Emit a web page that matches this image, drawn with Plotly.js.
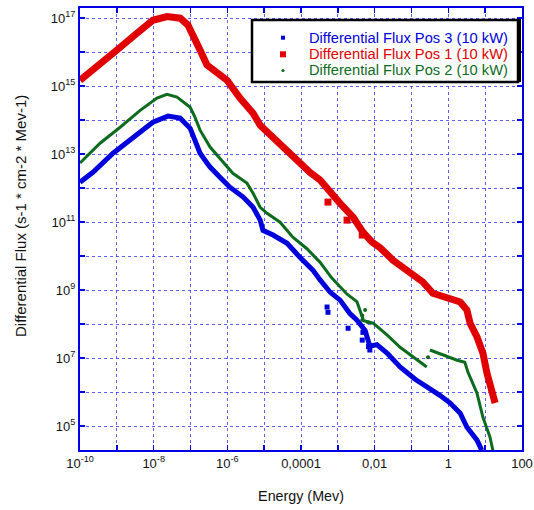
<!DOCTYPE html>
<html>
<head>
<meta charset="utf-8">
<script src="https://cdn.plot.ly/plotly-3.0.1.min.js"></script>
<style>html,body{margin:0;padding:0;background:#fff;}#chart{width:534px;height:510px;}</style>
</head>
<body>
<div id="chart"></div>
<script>
// ---- Data (energy in MeV, flux in s-1 cm-2 MeV-1) ----
const seriesNames = [
  'Differential Flux Pos 3 (10 kW)',
  'Differential Flux Pos 1 (10 kW)',
  'Differential Flux Pos 2 (10 kW)'
];

// Pos 3 (blue)
const pos3Energy = [1e-10, 2.24e-10, 7.9e-10, 2.75e-9, 9.5e-9, 2.45e-8, 5.25e-8, 9.8e-8, 1.32e-7, 1.82e-7, 2.8e-7, 3.4e-7, 6.3e-7, 1.17e-6, 2.7e-6, 5.0e-6, 7.8e-6, 9.3e-6, 1.74e-5, 4.2e-5, 9.3e-5, 2.1e-4, 3.3e-4, 6.2e-4, 1.15e-3, 2.1e-3, 3.3e-3, 5.5e-3, 7.4e-3, 1.15e-2, 2.2e-2, 4.9e-2, 0.126, 0.316, 0.59, 1.12, 2.1, 3.2, 6.0, 8.1];
const pos3Flux   = [1.5e12, 2.95e12, 1.07e13, 3.16e13, 8.7e13, 1.32e14, 1.15e14, 5.75e13, 2.57e13, 1.07e13, 5.5e12, 4.2e12, 2.1e12, 1.07e12, 5.5e11, 2.75e11, 1.15e11, 5.75e10, 4.2e10, 2.4e10, 9.3e9, 3.9e9, 2.0e9, 8.7e8, 5.1e8, 2.1e8, 1.32e8, 6.6e7, 2.24e7, 2.5e7, 1.4e7, 5.5e6, 2.4e6, 1.32e6, 8.1e5, 4.8e5, 2.4e5, 9.3e4, 3.9e4, 1.95e4];
const pos3ScatterEnergy = [5.1e-4, 5.4e-4, 1.9e-3, 4.8e-3, 4.6e-3, 7.4e-3, 6.8e-3];
const pos3ScatterFlux   = [3.2e8, 2.24e8, 7.6e7, 5.75e7, 3.4e7, 1.74e7, 2.2e7];

// Pos 1 (red)
const pos1Energy = [1e-10, 2.24e-10, 1e-9, 3.55e-9, 9.5e-9, 2.3e-8, 5.25e-8, 8.5e-8, 1.17e-7, 1.82e-7, 2.8e-7, 4.1e-7, 9.8e-7, 2.2e-6, 5.0e-6, 7.8e-6, 1.74e-5, 4.2e-5, 8.3e-5, 1.74e-4, 3.3e-4, 5.4e-4, 1.15e-3, 2.6e-3, 4.8e-3, 8.5e-3, 1.4e-2, 3.16e-2, 9.1e-2, 0.204, 0.38, 0.91, 2.1, 3.2, 3.9, 6.0, 8.7, 11.2, 16.2, 18.6];
const pos1Flux   = [1.5e15, 2.95e15, 1.15e16, 3.63e16, 8.7e16, 1.12e17, 1.0e17, 6.3e16, 2.75e16, 1.15e16, 4.2e15, 2.95e15, 1.5e15, 4.5e14, 1.6e14, 7.1e13, 3.16e13, 1.32e13, 5.75e12, 2.95e12, 1.74e12, 8.7e11, 3.6e11, 1.4e11, 5.1e10, 2.6e10, 1.78e10, 7.6e9, 3.16e9, 1.74e9, 8.1e8, 5.75e8, 4.5e8, 2.6e8, 1.07e8, 4.2e7, 1.4e7, 3.6e6, 9.3e5, 4.8e5];
const pos1ScatterEnergy = [5.4e-4, 1.78e-3, 4.6e-3];
const pos1ScatterFlux   = [3.9e11, 1.15e11, 4.2e10];

// Pos 2 (green) - two segments separated by a gap (null)
const pos2Energy = [1e-10, 3.5e-10, 1.23e-9, 4.3e-9, 1.23e-8, 2.3e-8, 4.3e-8, 9.8e-8, 1.32e-7, 1.82e-7, 3.4e-7, 7.6e-7, 1.41e-6, 3.4e-6, 5.0e-6, 7.8e-6, 1.2e-5, 2.7e-5, 6.0e-5, 1.45e-4, 3.3e-4, 6.8e-4, 1.78e-3, 3.3e-3, 5.0e-3, 9.1e-3, 2.2e-2, 4.9e-2, 0.11, 0.26, null, 0.316, 0.71, 1.74, 2.8, 3.4, 6.0, 8.7, 13.5, 16.2];
const pos2Flux   = [5.5e12, 2.1e13, 6.2e13, 1.95e14, 4.5e14, 5.75e14, 4.8e14, 2.4e14, 1.23e14, 5.1e13, 1.62e13, 5.9e12, 2.75e12, 1.41e12, 7.1e11, 2.75e11, 1.82e11, 1.0e11, 3.6e10, 1.66e10, 6.6e9, 2.3e9, 7.6e8, 4.6e8, 1.26e8, 1.07e8, 4.8e7, 2.1e7, 1.07e7, 5.5e6, null, 1.74e7, 1.23e7, 8.7e6, 7.6e6, 3.9e6, 9.3e5, 1.82e5, 4.8e4, 1.95e4];
const pos2ScatterEnergy = [5.5e-3, 4.6e-3, 6.6e-3, 4.6e-3, 0.28];
const pos2ScatterFlux   = [2.6e8, 1.32e8, 1.15e8, 1.8e8, 1.07e7];

// Axis tick values/labels
const xTickVals = [1e-10, 1e-9, 1e-8, 1e-7, 1e-6, 1e-5, 1e-4, 1e-3, 1e-2, 1e-1, 1, 10, 100];
const xTickText = ['10<sup>-10</sup>', '', '10<sup>-8</sup>', '', '10<sup>-6</sup>', '', '0,0001', '', '0,01', '', '1', '', '100'];
const yTickVals = [1e5, 1e6, 1e7, 1e8, 1e9, 1e10, 1e11, 1e12, 1e13, 1e14, 1e15, 1e16, 1e17];
const yTickText = ['10<sup>5</sup>', '', '10<sup>7</sup>', '', '10<sup>9</sup>', '', '10<sup>11</sup>', '', '10<sup>13</sup>', '', '10<sup>15</sup>', '', '10<sup>17</sup>'];

const BLUE = '#0000dc', RED = '#e00000', GREEN = '#0d6b1d';
const FRAME = '#0000e6';
const FONT = 'Liberation Sans, Arial, sans-serif';

// plot area in pixels (for placing the legend box / labels in paper coords)
const M = {l: 80, r: 12, t: 8, b: 60};
const PW = 534 - M.l - M.r, PH = 510 - M.t - M.b;
const px = X => (X - M.l) / PW;
const py = Y => 1 - (Y - M.t) / PH;

const traces = [
  {x: pos3Energy, y: pos3Flux, mode: 'lines', name: seriesNames[0], line: {color: BLUE, width: 5}, showlegend: false, hoverinfo: 'skip'},
  {x: pos1Energy, y: pos1Flux, mode: 'lines', name: seriesNames[1], line: {color: RED, width: 7}, showlegend: false, hoverinfo: 'skip'},
  {x: pos2Energy, y: pos2Flux, mode: 'lines', name: seriesNames[2], line: {color: GREEN, width: 3}, showlegend: false, connectgaps: false, hoverinfo: 'skip'},
  {x: pos3ScatterEnergy, y: pos3ScatterFlux, mode: 'markers', name: seriesNames[0], showlegend: false,
   marker: {symbol: 'square', size: 5, color: BLUE}},
  {x: pos1ScatterEnergy, y: pos1ScatterFlux, mode: 'markers', name: seriesNames[1], showlegend: false,
   marker: {symbol: 'square', size: 7, color: RED}},
  {x: pos2ScatterEnergy, y: pos2ScatterFlux, mode: 'markers', name: seriesNames[2], showlegend: false,
   marker: {symbol: 'circle', size: 4, color: GREEN}}
];

const axisCommon = {
  type: 'log',
  showgrid: true, gridcolor: 'rgba(40,40,255,0.75)', griddash: 'dot', gridwidth: 1,
  ticks: 'inside', ticklen: 5, tickwidth: 1.5, tickcolor: FRAME,
  showline: true, linecolor: FRAME, linewidth: 2, mirror: 'ticks',
  zeroline: false,
  tickfont: {family: FONT, size: 13, color: '#111'},
  tickmode: 'array'
};

// custom legend (box, symbols, coloured texts)
const legendRowsY = [37.7, 54.3, 70.5];
const legendColors = [BLUE, RED, GREEN];
const legendAnnotations = seriesNames.map((n, i) => ({
  xref: 'paper', yref: 'paper', x: px(307), y: py(legendRowsY[i]),
  xanchor: 'left', yanchor: 'middle', showarrow: false, text: n,
  font: {family: FONT, size: 14.7, color: legendColors[i]}
}));
const symHalf = [2, 3, 1.6];
const legendSymbols = legendRowsY.map((Y, i) => ({
  type: i === 2 ? 'circle' : 'rect', xref: 'paper', yref: 'paper', layer: 'above',
  x0: px(283 - symHalf[i]), x1: px(283 + symHalf[i]), y0: py(Y + symHalf[i]), y1: py(Y - symHalf[i]),
  line: {width: 0}, fillcolor: legendColors[i]
}));

const layout = {
  width: 534, height: 510,
  margin: M,
  paper_bgcolor: '#fff', plot_bgcolor: '#fff',
  font: {family: FONT, size: 13, color: '#111'},
  showlegend: false,
  xaxis: Object.assign({}, axisCommon, {
    range: [-10, 2], tickvals: xTickVals, ticktext: xTickText,
    title: {text: 'Energy (Mev)', font: {family: FONT, size: 14.3, color: '#111'}, standoff: 21}
  }),
  yaxis: Object.assign({}, axisCommon, {
    range: [4.3, 17.3], tickvals: yTickVals, ticktext: yTickText
  }),
  annotations: [
    {xref: 'paper', yref: 'paper', x: px(20), y: py(216), textangle: -90, showarrow: false,
     xanchor: 'center', yanchor: 'middle', text: 'Differential Flux (s-1 * cm-2 * Mev-1)',
     font: {family: FONT, size: 15, color: '#111'}}
  ].concat(legendAnnotations),
  shapes: [
    {type: 'rect', xref: 'paper', yref: 'paper', x0: px(252), x1: px(518), y0: py(82), y1: py(20),
     line: {color: '#000', width: 2.5}, fillcolor: '#fff', layer: 'above'},
    {type: 'line', xref: 'paper', yref: 'paper', x0: px(519), x1: px(519), y0: py(82), y1: py(19),
     line: {color: '#000', width: 4}, layer: 'above'}
  ].concat(legendSymbols)
};

Plotly.newPlot('chart', traces, layout, {staticPlot: true, displayModeBar: false});
</script>
</body>
</html>
